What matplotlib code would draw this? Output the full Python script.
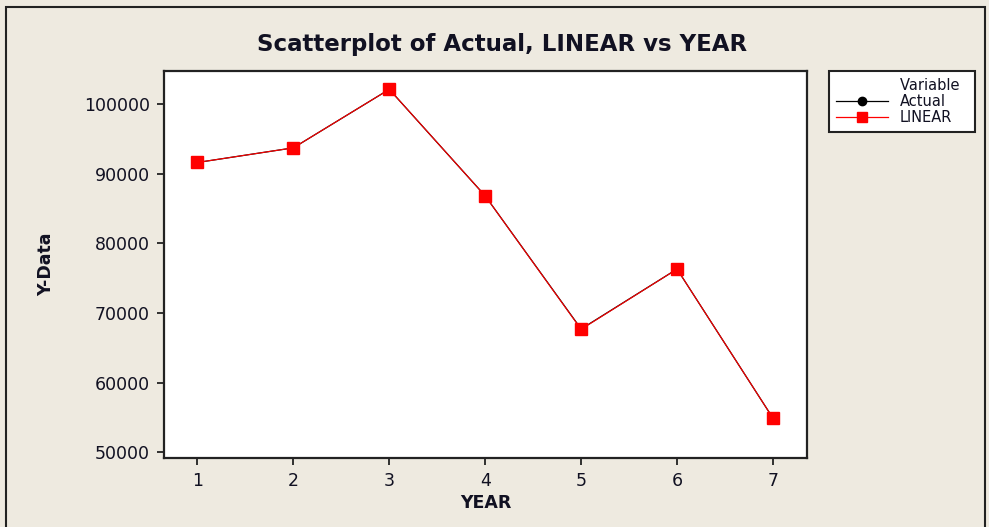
import matplotlib
matplotlib.use("Agg")
import matplotlib.pyplot as plt
from matplotlib.lines import Line2D
from matplotlib.patches import Rectangle

# data
years = [1, 2, 3, 4, 5, 6, 7]
actual = [91600, 93700, 102100, 86800, 67700, 76300, 54900]
linear = [91600, 93700, 102100, 86800, 67650, 76300, 54900]
y_ticks = [50000, 60000, 70000, 80000, 90000, 100000]

BG = "#EEEAE0"
TXT = "#111122"

W, H = 989, 527
fig = plt.figure(figsize=(W / 100, H / 100), dpi=100, facecolor=BG)

# outer frame of the graph window
fig.patches.append(Rectangle((6 / W, -0.02), (985 - 6) / W, 1.02 - 7 / H,
                             transform=fig.transFigure, fill=False,
                             edgecolor="#222222", linewidth=1.5))

ax = fig.add_axes([164 / W, 1 - 458 / H, (807 - 164) / W, (458 - 71) / H])
ax.set_facecolor("white")

ax.plot(years, actual, color="black", linewidth=0.9, marker="o",
        markersize=6, markerfacecolor="black", markeredgecolor="black",
        zorder=2)
ax.plot(years, linear, color="red", linewidth=0.8, marker="s",
        markersize=8.6, markerfacecolor="red", markeredgecolor="red",
        zorder=3)

ax.set_xlim(0.651, 7.355)
ax.set_ylim(49180, 104730)
ax.set_xticks(years)
ax.set_yticks(y_ticks)
ax.set_xticklabels([str(y) for y in years])
ax.set_yticklabels([str(v) for v in y_ticks])
ax.tick_params(direction="out", length=5, width=1.3, colors="#222222",
               labelsize=12.5, labelcolor=TXT, pad=5)
for s in ax.spines.values():
    s.set_linewidth(1.6)
    s.set_color("#222222")

ax.set_xlabel("YEAR", fontsize=12.5, fontweight="bold", color=TXT, labelpad=3)
ax.set_ylabel("Y-Data", fontsize=12.5, fontweight="bold", color=TXT, labelpad=21)
fig.text((254 + 750) / 2 / W, 1 - 44 / H, "Scatterplot of Actual, LINEAR vs YEAR",
         ha="center", va="center", fontsize=16.5, fontweight="bold", color=TXT)

handles = [
    Line2D([], [], linestyle="none"),
    Line2D([], [], color="black", linewidth=0.9, marker="o", markersize=6),
    Line2D([], [], color="red", linewidth=0.9, marker="s", markersize=6.5),
]
leg = fig.legend(handles, ["Variable  ", "Actual", "LINEAR"],
                 loc="upper left", bbox_to_anchor=(829 / W, 1 - 71 / H),
                 bbox_transform=fig.transFigure, borderaxespad=0,
                 fontsize=10.5, handlelength=3.6, handletextpad=0.8,
                 labelspacing=0.1, borderpad=0.45, fancybox=False,
                 framealpha=1, facecolor="white", edgecolor="#222222")
leg.get_frame().set_linewidth(1.5)
for t in leg.get_texts():
    t.set_color(TXT)

fig.savefig("out.png", dpi=100, facecolor=BG)
